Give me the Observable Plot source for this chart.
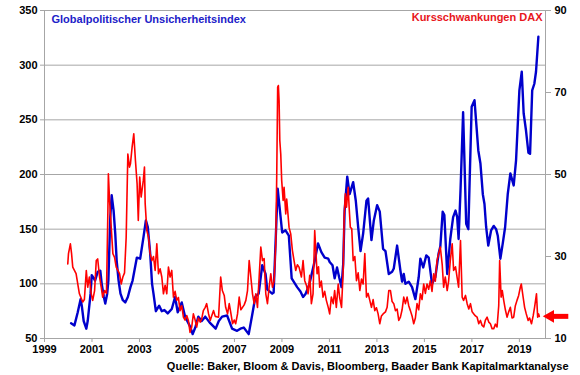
<!DOCTYPE html>
<html>
<head>
<meta charset="utf-8">
<script src="https://cdn.jsdelivr.net/npm/d3@7"></script>
<script src="https://cdn.jsdelivr.net/npm/@observablehq/plot@0.6"></script>
<style>
  html, body { margin: 0; padding: 0; background: #fff; }
  #chart { width: 580px; height: 375px; }
</style>
</head>
<body>
<div id="chart"></div>
<script>
// ---- Labels ----
const titleLeft = "Globalpolitischer Unsicherheitsindex";
const titleRight = "Kursschwankungen DAX";
const sourceText = "Quelle: Baker, Bloom & Davis, Bloomberg, Baader Bank Kapitalmarktanalyse";

// ---- Axis ticks ----
const xTicks = [1999, 2001, 2003, 2005, 2007, 2009, 2011, 2013, 2015, 2017, 2019];
const leftTicks = [50, 100, 150, 200, 250, 300, 350];
const rightTicks = [10, 30, 50, 70, 90];

// ---- Global political uncertainty index (left axis) ----
const blueYear = [2000.12,2000.26,2000.40,2000.52,2000.57,2000.65,2000.76,2000.82,2000.94,2000.99,
  2001.08,2001.13,2001.24,2001.35,2001.41,2001.50,2001.56,2001.64,2001.69,2001.77,2001.83,2001.91,2001.98,
  2002.04,2002.12,2002.20,2002.30,2002.40,2002.51,2002.62,2002.71,2002.89,
  2003.03,2003.17,2003.27,2003.35,2003.45,2003.53,2003.59,2003.69,2003.83,2003.94,
  2004.05,2004.19,2004.36,2004.50,2004.61,2004.78,2004.92,
  2005.13,2005.24,2005.35,2005.48,2005.62,2005.77,2005.98,
  2006.21,2006.34,2006.48,2006.69,2006.90,
  2007.11,2007.25,2007.39,2007.60,2007.75,2007.88,
  2008.02,2008.17,2008.31,2008.38,2008.59,2008.65,2008.82,
  2009.01,2009.15,2009.29,2009.41,2009.64,2009.78,2009.89,
  2010.00,2010.16,2010.38,2010.52,2010.66,2010.80,2010.95,
  2011.01,2011.13,2011.22,2011.32,2011.41,2011.51,2011.58,2011.64,2011.75,2011.85,
  2012.00,2012.11,2012.21,2012.31,2012.42,2012.56,2012.63,2012.77,2012.87,
  2013.01,2013.12,2013.26,2013.36,2013.50,2013.64,2013.71,2013.85,2013.99,
  2014.06,2014.13,2014.20,2014.34,2014.48,2014.62,2014.76,2014.83,2014.95,
  2015.08,2015.18,2015.32,2015.46,2015.60,2015.67,2015.77,2015.84,2015.96,
  2016.09,2016.21,2016.31,2016.38,2016.44,2016.52,2016.63,2016.76,2016.85,2016.99,
  2017.11,2017.27,2017.36,2017.46,2017.53,2017.60,2017.69,2017.81,2017.92,
  2018.02,2018.09,2018.20,2018.30,2018.40,2018.51,2018.62,2018.76,2018.86,
  2019.00,2019.10,2019.18,2019.28,2019.38,2019.45,2019.54,2019.63,2019.70,2019.80];
const blueValue = [64,62,74,86,80,66,59,66,91,108,
  105,103,111,112,100,88,82,91,103,161,181,167,146,
  121,103,91,85,83,88,97,103,124,
  123,143,158,152,128,100,91,75,80,75,
  76,73,77,88,74,83,70,
  61,54,60,70,66,70,64,
  59,66,70,71,59,
  57,59,60,54,72,88,
  91,117,109,95,91,92,187,
  147,149,144,105,97,93,88,
  91,100,121,137,129,124,123,
  120,117,105,115,106,97,118,167,198,182,
  193,176,152,130,146,176,178,140,158,
  172,166,132,130,109,111,114,135,112,
  102,109,100,102,97,86,106,123,115,
  126,124,100,106,128,134,166,163,109,
  141,161,167,161,141,185,257,155,150,262,
  268,222,210,182,173,152,135,149,153,
  150,144,123,137,152,182,201,190,213,
  277,294,256,240,220,219,277,283,294,326];

// ---- DAX volatility (right axis) ----
const redYear = [1999.98,2000.01,2000.09,2000.14,2000.19,2000.33,2000.47,2000.61,2000.68,2000.76,2000.82,2000.89,2000.97,
  2001.03,2001.11,2001.18,2001.24,2001.32,2001.39,2001.45,2001.53,2001.61,2001.67,2001.69,2001.74,2001.81,2001.88,2001.95,
  2002.02,2002.16,2002.23,2002.30,2002.37,2002.44,2002.51,2002.58,2002.62,2002.69,2002.76,2002.83,2002.90,2002.95,
  2003.01,2003.07,2003.16,2003.21,2003.24,2003.31,2003.38,2003.45,2003.52,2003.59,2003.66,2003.73,2003.80,2003.87,2003.94,
  2004.01,2004.08,2004.15,2004.22,2004.29,2004.36,2004.43,2004.50,2004.57,2004.64,2004.71,2004.78,2004.85,2004.92,2004.99,
  2005.06,2005.13,2005.20,2005.27,2005.35,2005.41,2005.48,2005.56,2005.62,2005.69,2005.77,2005.83,2005.91,2005.98,
  2006.04,2006.12,2006.19,2006.33,2006.42,2006.49,2006.57,2006.63,2006.71,2006.78,2006.84,2006.92,2006.99,
  2007.05,2007.13,2007.20,2007.27,2007.34,2007.41,2007.48,2007.55,2007.62,2007.69,2007.76,2007.83,2007.90,2007.97,
  2008.04,2008.11,2008.18,2008.25,2008.32,2008.39,2008.46,2008.53,2008.60,2008.67,2008.74,2008.78,2008.82,2008.85,2008.88,2008.91,2008.95,2008.99,
  2009.05,2009.09,2009.16,2009.20,2009.23,2009.30,2009.37,2009.44,2009.51,2009.58,2009.65,2009.72,2009.82,2009.89,2009.96,
  2010.03,2010.10,2010.17,2010.24,2010.31,2010.38,2010.42,2010.48,2010.54,2010.59,2010.66,2010.73,2010.80,2010.87,2010.95,
  2011.01,2011.08,2011.16,2011.22,2011.29,2011.37,2011.43,2011.51,2011.58,2011.62,2011.67,2011.72,2011.79,2011.83,2011.88,2011.94,
  2012.00,2012.07,2012.14,2012.21,2012.28,2012.35,2012.42,2012.49,2012.56,2012.63,2012.70,2012.77,2012.84,2012.91,2012.98,
  2013.05,2013.12,2013.19,2013.26,2013.36,2013.43,2013.50,2013.57,2013.64,2013.71,2013.78,2013.85,2013.92,2013.99,
  2014.06,2014.13,2014.20,2014.27,2014.34,2014.41,2014.48,2014.55,2014.62,2014.69,2014.76,2014.83,2014.90,2014.97,
  2015.04,2015.11,2015.18,2015.25,2015.32,2015.39,2015.46,2015.53,2015.60,2015.67,2015.75,2015.81,2015.88,2015.96,
  2016.02,2016.09,2016.17,2016.23,2016.31,2016.38,2016.44,2016.52,2016.59,2016.65,2016.73,2016.80,2016.87,2016.94,
  2017.01,2017.08,2017.15,2017.22,2017.29,2017.36,2017.43,2017.50,2017.57,2017.64,2017.71,2017.78,2017.85,2017.92,2017.99,
  2018.06,2018.13,2018.17,2018.23,2018.28,2018.34,2018.41,2018.48,2018.55,2018.62,2018.69,2018.76,2018.83,2018.90,2018.97,
  2019.04,2019.08,2019.16,2019.22,2019.29,2019.37,2019.43,2019.51,2019.58,2019.64,2019.72,2019.77,2019.81,2019.84];
const redValue = [28.2,30.7,33.1,30.7,27.4,25.8,20.9,18.9,19.5,26.6,22.5,25,20.9,
  19.3,21.7,29,29.4,25,22.5,20.1,21.7,21,41.2,50.2,43.7,37.1,30.7,29.8,
  27.4,25.8,23.3,25,26,34.7,55,51.8,52.6,56.7,59.9,53.4,47.7,38.8,
  49.4,44.5,48.5,51.8,42.9,36.3,34.7,30.7,29,30,26.6,33.1,25.8,27,25,
  20.9,23,20.9,27.4,25,26.6,20.1,21.5,19.3,20,16.8,18,15.2,14.5,15.6,
  14.4,11.5,12.8,16,14.4,12.8,15,14,14.8,16.8,17.6,18.5,16,14.4,
  15.5,16.8,15.4,15.2,25,21.7,20.5,17.6,16,18.5,16.5,13.6,14.5,
  13.6,16,20.1,17,17.6,18.2,19.3,21.7,29,25,20.9,18.5,20.9,17.6,
  25,32.3,29,29.5,20.9,18.5,22.5,25.8,22.5,24,33.1,49.4,71.3,71.7,68,58.3,55,48.5,
  43.7,46.9,40.4,44,42,37.1,35.5,31.5,29,26.6,28,27.4,25,29,24.1,
  23,20.9,25.4,18.5,20.9,36.3,32.3,25.8,27.5,22.5,24,20.1,21.5,19.3,17.6,
  16,20.1,18.5,21.7,17.6,23.3,20,17.6,26.6,39.6,45.3,42,46.9,42,37.1,36.8,
  29,30,24.1,26,21.7,24.5,23.3,30.7,20.1,21,19.3,17.6,19.5,16.8,17.5,
  16,13.6,15.5,16,16.5,17.6,21.7,21.7,19,18.5,16.8,17.2,14.4,15.2,
  17,20.1,18.5,20.1,18,16.8,15.5,13.6,15,18.5,17,20.9,19.5,23.3,
  21,23.3,22,24.1,21.5,25.8,24,29,30.7,32.3,28,22.5,25,21.7,
  24,29,33.1,26.6,27.5,24.8,22.5,33.9,20.1,19.3,20.5,18.5,17.2,18.5,
  16.5,16,15.5,15.2,13.6,14.4,13.2,12.8,14.5,15.2,14,13.6,12.4,12.4,13.5,
  12.8,18,29,20.1,21.7,19.3,17,15.2,16.5,17.6,15,15.2,18,19.3,20.5,
  22.5,23.3,20,17.6,16,14.4,15,13.6,15.5,17.6,20.9,15.2,16,15.4];

// current DAX volatility level marked by the arrow (right axis)
const arrowLevel = [15.4];

// ---- Build tables ----
const blue = blueYear.map((x, i) => ({x, v: blueValue[i]}));
const red = redYear.map((x, i) => ({x, r: redValue[i]}));

// right axis (10..90) mapped onto left axis (50..350)
const toLeft = r => 50 + (r - 10) * 3.75;
const fromLeft = v => Math.round((v - 50) / 3.75 + 10);

const xDomain = [1999, 2020.1];
const arrowData = arrowLevel.map(l => ({x1: 2021.06, x2: 2020.3, y: toLeft(l)}));

const chart = Plot.plot({
  width: 580,
  height: 375,
  marginLeft: 44,
  marginRight: 35,
  marginTop: 10,
  marginBottom: 37,
  style: {fontFamily: "Arial, 'Liberation Sans', sans-serif", fontSize: "11px", fontWeight: "bold", background: "#fff", color: "#000", overflow: "visible"},
  x: {domain: xDomain},
  y: {domain: [50, 350]},
  marks: [
    Plot.gridY(leftTicks, {stroke: "#a6a6a6", strokeOpacity: 1}),
    Plot.frame({stroke: "#a6a6a6"}),
    Plot.axisY(leftTicks, {anchor: "left", tickSize: 4, tickPadding: 3, label: null, stroke: "#a6a6a6", fill: "#000", fontSize: 11, fontWeight: "bold"}),
    Plot.axisY(rightTicks.map(toLeft), {anchor: "right", tickSize: 5, tickPadding: 4, tickFormat: fromLeft, label: null, stroke: "#a6a6a6", fill: "#000", fontSize: 11, fontWeight: "bold"}),
    Plot.axisX(xTicks, {tickSize: 4, tickPadding: 3, tickFormat: d => String(d), label: null, stroke: "#a6a6a6", fill: "#000", fontSize: 11, fontWeight: "bold"}),
    Plot.line(blue, {x: "x", y: "v", stroke: "#0000cc", strokeWidth: 2.4, strokeLinejoin: "round"}),
    Plot.line(red, {x: "x", y: d => toLeft(d.r), stroke: "#ff0000", strokeWidth: 1.6, strokeLinejoin: "round"}),
    Plot.text([titleLeft], {frameAnchor: "top-left", dx: 7, dy: 9, lineAnchor: "middle", textAnchor: "start", fill: "#2121c8", fontSize: 11, fontWeight: "bold"}),
    Plot.text([titleRight], {frameAnchor: "top-right", dx: -3, dy: 7, lineAnchor: "middle", textAnchor: "end", fill: "#e8161c", fontSize: 11, fontWeight: "bold"}),
    Plot.text([sourceText], {frameAnchor: "bottom-right", dx: 23, dy: 28, lineAnchor: "middle", textAnchor: "end", fill: "#000", fontSize: 11, fontWeight: "bold"}),
    Plot.link(arrowData, {x1: "x1", x2: "x2", y1: "y", y2: "y", stroke: "#ff0000", strokeWidth: 5}),
    Plot.dot(arrowData, {x: "x2", y: "y", symbol: "triangle", rotate: -90, r: 4.8, fill: "#ff0000", stroke: null})
  ]
});
document.getElementById("chart").appendChild(chart);
</script>
</body>
</html>
